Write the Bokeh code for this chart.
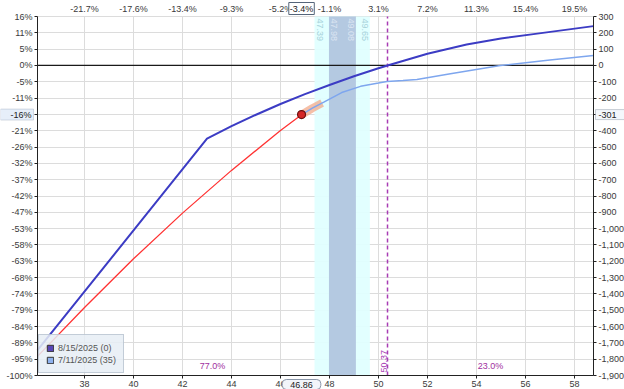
import numpy as np
from math import pi
from bokeh.plotting import figure
from bokeh.models import (Range1d, LinearAxis, FixedTicker, BoxAnnotation,
                          Label, Legend, LegendItem)
from bokeh.embed import file_html
from bokeh.resources import INLINE

# ---------------- data ----------------
x_ticks = [38, 40, 42, 44, 46, 48, 50, 52, 54, 56, 58]
top_labels = ["-21.7%", "-17.6%", "-13.4%", "-9.3%", "-5.2%", "-1.1%",
              "3.1%", "7.2%", "11.3%", "15.4%", "19.5%"]
y_ticks = list(range(-1900, 301, 100))
left_labels = ["-100%", "-95%", "-89%", "-84%", "-79%", "-74%", "-68%", "-63%",
               "-58%", "-53%", "-47%", "-42%", "-37%", "-32%", "-26%", "-21%",
               "-16%", "-11%", "-5%", "0%", "5%", "11%", "16%"]
right_labels = ["-1,900", "-1,800", "-1,700", "-1,600", "-1,500", "-1,400",
                "-1,300", "-1,200", "-1,100", "-1,000", "-900", "-800", "-700",
                "-600", "-500", "-400", "-300", "-200", "-100", "0", "100",
                "200", "300"]

# expiration line (8/15/2025)
exp_x = [36.08, 43.0, 44.0, 45.0, 46.0, 47.0, 48.0, 49.0, 50.0, 50.37, 52.0,
         53.6, 55.0, 56.33, 58.78]
exp_y = [-1745, -449, -372, -302, -236, -176, -120, -66, -17, 0, 72,
         128, 165, 192, 241]

# T+0 line (7/11/2025), left part drawn red
red_x = [36.08, 38.0, 40.0, 42.0, 44.0, 46.0, 46.86]
red_y = [-1783, -1483, -1185, -905, -643, -399, -302]
t0_x = [46.86, 47.3, 47.77, 48.5, 49.27, 50.0, 50.35, 51.0, 51.57, 52.94,
        54.98, 57.0, 58.78]
t0_y = [-302, -262, -225, -166, -128, -108, -98, -92, -86, -51, 0, 33, 61]

cur_x, cur_y = 46.86, -301
salmon_range = [46.86, 47.7]
outer_band = [47.39, 49.65]
inner_band = [47.98, 49.08]
breakeven = 50.37
prob_labels = ["77.0%", "23.0%"]
legend_labels = ["8/15/2025 (0)", "7/11/2025 (35)"]

x_start, x_end = 36.08, 58.78
y_min, y_max = -1900, 300

# ---------------- layout ----------------
W, H = 624, 389
M_L, M_R, M_T, M_B = 37, 31, 16, 14
ux = (x_end - x_start) / (W - M_L - M_R)
uy = (y_max - y_min) / (H - M_T - M_B)
x_lo, x_hi = x_start - M_L * ux, x_end + M_R * ux
y_lo, y_hi = y_min - M_B * uy, y_max + M_T * uy

FONT = "Liberation Sans"
TXT = "#3a3a3a"

p = figure(width=W, height=H, x_range=Range1d(x_lo, x_hi),
           y_range=Range1d(y_lo, y_hi), output_backend="svg",
           toolbar_location=None, min_border=0)
p.outline_line_color = None
p.background_fill_color = "white"
p.border_fill_color = "white"


def style_axis(ax):
    ax.major_label_text_font = FONT
    ax.major_label_text_font_size = "9px"
    ax.major_label_text_color = TXT
    ax.minor_tick_line_color = None
    ax.major_tick_in = 0
    ax.major_tick_out = 3
    ax.major_label_standoff = 2
    ax.axis_line_color = "#222222"
    ax.major_tick_line_color = "#222222"


# bottom axis
xb = p.xaxis[0]
xb.ticker = FixedTicker(ticks=x_ticks)
xb.fixed_location = y_min
xb.bounds = (x_start, x_end)
style_axis(xb)

# top axis
xt = LinearAxis(ticker=FixedTicker(ticks=x_ticks), fixed_location=y_max,
                bounds=(x_start, x_end),
                major_label_overrides=dict(zip(x_ticks, top_labels)))
style_axis(xt)
xt.axis_line_color = None
xt.major_tick_line_color = None
xt.major_tick_out = 0
xt.major_label_standoff = 3
p.add_layout(xt, "above")

# left axis
yl = p.yaxis[0]
yl.ticker = FixedTicker(ticks=y_ticks)
yl.fixed_location = x_start
yl.bounds = (y_min, y_max)
yl.major_label_overrides = dict(zip(y_ticks, left_labels))
style_axis(yl)

# right axis
yr = LinearAxis(ticker=FixedTicker(ticks=y_ticks), fixed_location=x_end,
                bounds=(y_min, y_max),
                major_label_overrides=dict(zip(y_ticks, right_labels)))
style_axis(yr)
p.add_layout(yr, "right")

p.xgrid.ticker = FixedTicker(ticks=x_ticks)
p.ygrid.ticker = FixedTicker(ticks=y_ticks)
p.xgrid.bounds = (x_start, x_end)
p.xgrid.cross_bounds = (y_min, y_max)
p.ygrid.bounds = (y_min, y_max)
p.ygrid.cross_bounds = (x_start, x_end)
for g in (p.xgrid, p.ygrid):
    g.grid_line_color = "#dcdcdc"
    g.grid_line_width = 1

# bands
p.add_layout(BoxAnnotation(left=outer_band[0], right=outer_band[1],
                           bottom=y_min, top=y_max,
                           fill_color="#e0ffff", fill_alpha=0.92,
                           line_color=None, level="underlay"))
p.add_layout(BoxAnnotation(left=inner_band[0], right=inner_band[1],
                           bottom=y_min, top=y_max,
                           fill_color="#b0c4de", fill_alpha=0.92,
                           line_color=None, level="underlay"))

# zero line
p.line([x_start, x_end], [0, 0], line_color="#1a1a1a", line_width=1.3)

# breakeven dashed line
p.line([breakeven, breakeven], [y_min, y_max], line_color="#a83cb4",
       line_width=1.5, line_dash="4 3")

# salmon highlight along T+0 line
sx = [v for v in t0_x if salmon_range[0] <= v <= salmon_range[1]] + [salmon_range[1]]
sy = list(np.interp(sx, t0_x, t0_y))
p.line(sx, sy, line_width=8, line_color="#f2a98a", line_alpha=0.75,
       line_cap="butt")

# lines
p.line(exp_x, exp_y, line_color="#3c3cc4", line_width=2)
p.line(red_x, red_y, line_color="#ff3333", line_width=1.3)
p.line(t0_x, t0_y, line_color="#7ea6ee", line_width=1.5)
p.scatter([cur_x], [cur_y], size=8, fill_color="#d42626", line_color="#6a1010",
          line_width=1.2)

# band labels
band_lbls = [(outer_band[0], "bottom", "#a6d2da"),
             (inner_band[0], "bottom", "#dce5f2"),
             (inner_band[1], "top", "#dce5f2"),
             (outer_band[1], "top", "#a6d2da")]
for bx, base_line, col in band_lbls:
    p.add_layout(Label(x=bx, y=y_max, y_offset=-2, text=f"{bx:.2f}",
                       angle=-pi / 2, text_align="left", text_baseline=base_line,
                       text_font=FONT, text_font_size="9px", text_color=col,
                       x_offset=(2 if base_line == "bottom" else -2)))

# breakeven label
p.add_layout(Label(x=breakeven, y=y_min, y_offset=3, x_offset=-1,
                   text=f"{breakeven:.2f}", angle=pi / 2, text_align="left",
                   text_baseline="bottom", text_font=FONT,
                   text_font_size="9px", text_color="#a83cb4"))

# probability labels
mids = [(x_start + breakeven) / 2, (breakeven + x_end) / 2]
for mx, t in zip(mids, prob_labels):
    p.add_layout(Label(x=mx, y=y_min, y_offset=5, text=t, text_align="center",
                       text_baseline="bottom", text_font=FONT,
                       text_font_size="9px", text_color="#a030a0"))

# axis highlight boxes
base = sum(inner_band) / 2
pct = (cur_x - base) / base * 100
p.add_layout(Label(x=cur_x, y=y_max, y_offset=8, text=f"{pct:.1f}%",
                   text_align="center", text_baseline="middle", text_font=FONT,
                   text_font_size="9px", text_color="#222222",
                   background_fill_color="white", border_line_color="#55657a",
                   padding=1))
p.add_layout(Label(x=cur_x, y=y_min, y_offset=-9, text=f"{cur_x:.2f}",
                   text_align="center", text_baseline="middle", text_font=FONT,
                   text_font_size="9px", text_color="#222222",
                   background_fill_color="#f2f5fa", border_line_color="#8a96a8",
                   padding=(8, 2), border_radius=4))
# left value box
p.add_layout(BoxAnnotation(left=x_lo, right=x_start - 4 * ux,
                           bottom=cur_y - 5.5 * uy, top=cur_y + 5.5 * uy,
                           fill_color="#e6eef9", fill_alpha=1,
                           line_color="#7f8fa8", line_width=1,
                           level="annotation"))
p.add_layout(Label(x=x_start, y=cur_y, x_offset=-6, text=f"{round(cur_y / 19)}%",
                   text_align="right", text_baseline="middle", text_font=FONT,
                   text_font_size="9px", text_color="#222222"))
# right value box
p.add_layout(BoxAnnotation(left=x_end + 2 * ux, right=x_hi,
                           bottom=cur_y - 5 * uy, top=cur_y + 5 * uy,
                           fill_color="#f4f7fb", fill_alpha=1,
                           line_color="#55657a", line_width=1,
                           level="annotation"))
p.add_layout(Label(x=x_end, y=cur_y, x_offset=5, text=f"{cur_y:,}",
                   text_align="left", text_baseline="middle", text_font=FONT,
                   text_font_size="9px", text_color="#222222"))

# legend
nan = [np.nan]
r1 = p.quad(left=nan, right=nan, top=nan, bottom=nan, fill_color="#5846b8",
            line_color="#333333")
r2 = p.quad(left=nan, right=nan, top=nan, bottom=nan, fill_color="#8fb2ee",
            line_color="#333333")
legend = Legend(items=[LegendItem(label=legend_labels[0], renderers=[r1]),
                       LegendItem(label=legend_labels[1], renderers=[r2])],
                location=(M_L + 1, M_B + 2), padding=7, spacing=1,
                glyph_width=8, glyph_height=8, label_height=11,
                label_standoff=4, label_text_font=FONT,
                label_text_font_size="9px", label_text_color="#555555",
                background_fill_color="#e6edf5", background_fill_alpha=0.85,
                border_line_color="#9aa8b8")
p.add_layout(legend)

open("out.html", "w").write(file_html(p, INLINE))
